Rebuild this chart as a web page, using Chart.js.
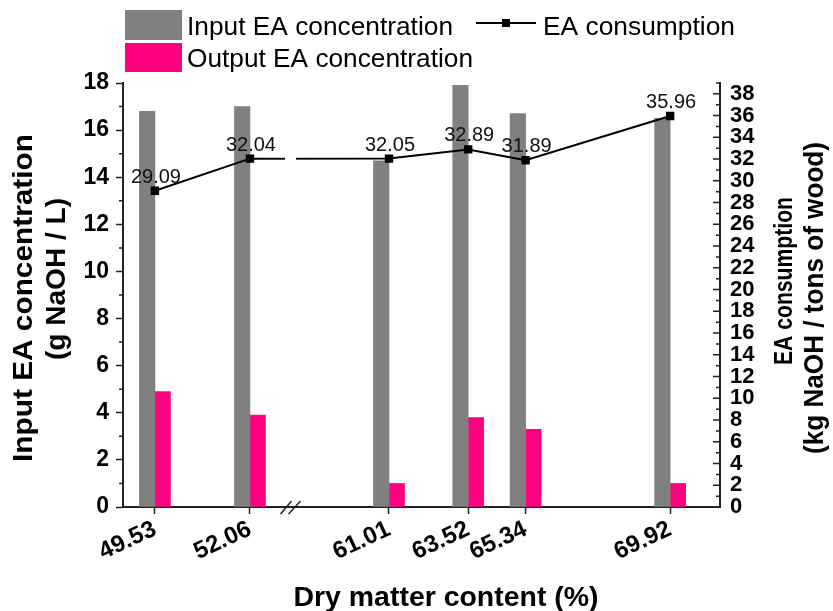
<!DOCTYPE html>
<html><head><meta charset="utf-8">
<script src="https://cdn.jsdelivr.net/npm/chart.js@4.4.1/dist/chart.umd.min.js"></script>
<style>html,body{margin:0;padding:0;background:#fff}#wrap{width:833px;height:611px}</style>
</head><body><div id="wrap"><canvas id="c" width="833" height="611"></canvas></div>
<script>
const dryMatter = [49.53, 52.06, 61.01, 63.52, 65.34, 69.92];
const xTickLabels = ['49.53', '52.06', '61.01', '63.52', '65.34', '69.92'];
const inputEA = [16.8, 17.0, 14.7, 17.9, 16.7, 16.5];
const outputEA = [4.9, 3.9, 1.0, 3.8, 3.3, 1.0];
const eaConsumption = [29.09, 32.04, 32.05, 32.89, 31.89, 35.96];
const consumptionLabels = ['29.09', '32.04', '32.05', '32.89', '31.89', '35.96'];
const leftTicks = [0, 2, 4, 6, 8, 10, 12, 14, 16, 18];
const rightTicks = [0, 2, 4, 6, 8, 10, 12, 14, 16, 18, 20, 22, 24, 26, 28, 30, 32, 34, 36, 38];

// broken x axis definition (two segments with different scales)
const X_MIN = 48.68, BREAK_LO = 53.14, BREAK_HI = 57.89, X_MAX = 71.5, RIGHT_RATIO = 0.84;
function toAxis(v) { return v <= BREAK_LO ? v : BREAK_LO + (v - BREAK_HI) * RIGHT_RATIO; }

const FONT = '"Liberation Sans", Arial, sans-serif';
const GRAY = '#808080', PINK = '#FF0080', AXIS = '#222';

function drawText(ctx, text, x, y, o) {
  ctx.save();
  ctx.translate(x, y);
  if (o.rot) ctx.rotate(o.rot);
  ctx.font = (o.weight || 'normal') + ' ' + o.size + 'px ' + FONT;
  const w = ctx.measureText(text).width;
  ctx.scale(o.len ? o.len / w : 1, 1);
  ctx.textAlign = o.align || 'center';
  ctx.textBaseline = 'alphabetic';
  ctx.fillStyle = o.color || '#000';
  ctx.fillText(text, 0, 0);
  ctx.restore();
}

const decor = {
  id: 'decor',
  afterDatasetsDraw(chart) {
    const ctx = chart.ctx, ca = chart.chartArea;
    const bx = chart.scales.x.getPixelForValue(BREAK_LO);
    ctx.save();
    ctx.fillStyle = '#fff';
    ctx.fillRect(bx - 5.5, ca.top, 11, ca.bottom - ca.top - 2);
    ctx.restore();
    const meta = chart.getDatasetMeta(2);
    meta.data.forEach((p, i) => {
      drawText(ctx, consumptionLabels[i], p.x + 1, p.y - 8, {size: 20, color: '#111'});
    });
  },
  afterDraw(chart) {
    const ctx = chart.ctx, ca = chart.chartArea;
    const y = chart.scales.y, y2 = chart.scales.y2, x = chart.scales.x;
    ctx.save();
    ctx.strokeStyle = AXIS;
    ctx.lineWidth = 1.5;
    ctx.beginPath();
    for (let v = 1; v < 18; v += 2) {
      const py = y.getPixelForValue(v);
      ctx.moveTo(ca.left - 4, py); ctx.lineTo(ca.left, py);
    }
    for (let v = 0; v <= 39; v++) {
      const py = y2.getPixelForValue(v);
      const len = v % 2 === 0 ? 7 : 4;
      ctx.moveTo(ca.right, py); ctx.lineTo(ca.right - len, py);
    }
    ctx.stroke();
    // axis break marks
    const bx = x.getPixelForValue(BREAK_LO);
    ctx.beginPath();
    ctx.moveTo(bx - 10, ca.bottom + 7); ctx.lineTo(bx + 1, ca.bottom - 6);
    ctx.moveTo(bx - 2, ca.bottom + 7); ctx.lineTo(bx + 10, ca.bottom - 6);
    ctx.stroke();
    ctx.restore();

    // legend
    ctx.save();
    ctx.fillStyle = GRAY; ctx.fillRect(125, 10, 57, 30);
    ctx.fillStyle = PINK; ctx.fillRect(125, 43, 57, 29);
    ctx.strokeStyle = '#000'; ctx.lineWidth = 2;
    ctx.beginPath(); ctx.moveTo(476, 23); ctx.lineTo(536, 23); ctx.stroke();
    ctx.fillStyle = '#000'; ctx.fillRect(502, 19, 8, 8);
    ctx.restore();
    drawText(ctx, 'Input EA concentration', 187, 35, {size: 26, align: 'left', len: 266});
    drawText(ctx, 'Output EA concentration', 187, 67, {size: 26, align: 'left', len: 286});
    drawText(ctx, 'EA consumption', 543, 35, {size: 26, align: 'left', len: 192});

    // axis titles
    const R = -Math.PI / 2;
    drawText(ctx, 'Input EA concentration', 32, 298, {size: 27, weight: 'bold', rot: R, len: 328});
    drawText(ctx, '(g NaOH / L)', 65, 279, {size: 27, weight: 'bold', rot: R, len: 162});
    drawText(ctx, 'EA consumption', 792, 281, {size: 26, weight: 'bold', rot: R, len: 168});
    drawText(ctx, '(kg NaOH / tons of wood)', 823, 298, {size: 27, weight: 'bold', rot: R, len: 312});
    drawText(ctx, 'Dry matter content (%)', 446, 606, {size: 28, weight: 'bold', len: 305});
  }
};

const tickFont = {family: FONT, size: 22, weight: 'bold'};

new Chart(document.getElementById('c'), {
  type: 'bar',
  data: {
    datasets: [
      {label: 'Input EA concentration', data: dryMatter.map((v, i) => ({x: toAxis(v), y: inputEA[i]})),
       backgroundColor: GRAY, barThickness: 15.5, yAxisID: 'y', order: 1},
      {label: 'Output EA concentration', data: dryMatter.map((v, i) => ({x: toAxis(v), y: outputEA[i]})),
       backgroundColor: PINK, barThickness: 15.5, yAxisID: 'y', order: 1},
      {type: 'line', label: 'EA consumption', data: dryMatter.map((v, i) => ({x: toAxis(v), y: eaConsumption[i]})),
       borderColor: '#000', borderWidth: 2, pointStyle: 'rect', pointRadius: 4.5,
       pointBackgroundColor: '#000', pointBorderColor: '#000', yAxisID: 'y2', order: 0}
    ]
  },
  options: {
    responsive: false, animation: false, devicePixelRatio: 1,
    layout: {padding: {top: 83, left: 0, right: 0, bottom: 0}},
    plugins: {legend: {display: false}, tooltip: {enabled: false}},
    scales: {
      x: {
        type: 'linear', position: 'bottom', offset: false,
        min: toAxis(X_MIN), max: toAxis(X_MAX),
        afterBuildTicks: s => { s.ticks = dryMatter.map(v => ({value: toAxis(v)})); },
        afterFit: s => { s.height = 104; },
        ticks: {autoSkip: false, maxRotation: 25, minRotation: 25, font: {family: FONT, size: 24, weight: 'bold'},
                color: '#000', padding: 1, callback: (v, i) => xTickLabels[i]},
        grid: {offset: false, drawOnChartArea: false, drawTicks: true, tickLength: 7, tickColor: AXIS, tickWidth: 1.5},
        border: {color: AXIS, width: 2}
      },
      y: {
        position: 'left', min: 0, max: 18,
        afterBuildTicks: s => { s.ticks = leftTicks.map(v => ({value: v})); },
        afterFit: s => { s.width = 123; },
        ticks: {font: {family: FONT, size: 23, weight: 'bold'}, color: '#000', padding: 7, autoSkip: false},
        grid: {drawOnChartArea: false, drawTicks: true, tickLength: 7, tickColor: AXIS, tickWidth: 1.5},
        border: {color: AXIS, width: 2}
      },
      y2: {
        position: 'right', min: 0, max: 39,
        afterBuildTicks: s => { s.ticks = rightTicks.map(v => ({value: v})); },
        afterFit: s => { s.width = 113; },
        ticks: {font: tickFont, color: '#000', padding: 10, autoSkip: false},
        grid: {drawOnChartArea: false, drawTicks: false},
        border: {color: AXIS, width: 2}
      }
    }
  },
  plugins: [decor]
});
</script></body></html>
